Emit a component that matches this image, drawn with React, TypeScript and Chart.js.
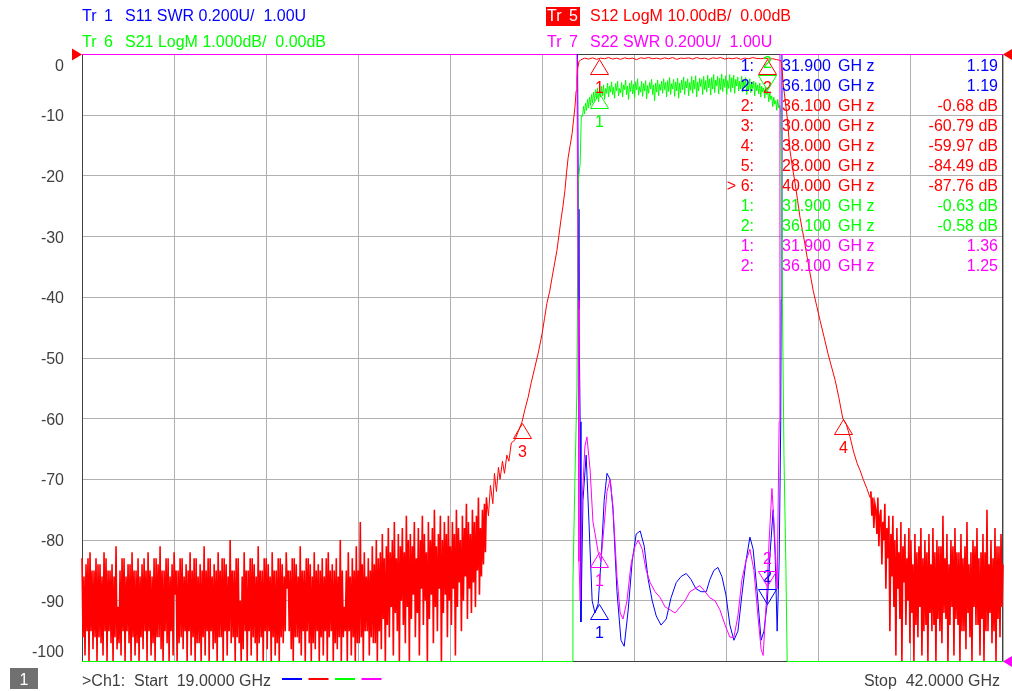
import React, { useEffect, useRef } from "react";
import { Chart, registerables } from "chart.js";

Chart.register(...registerables);

// ---------- axis / sweep ----------
const START_GHZ = 19;
const STOP_GHZ = 42;
const X_DIVS = 10;
const DB_TICKS = [0, -10, -20, -30, -40, -50, -60, -70, -80, -90, -100];

// ---------- S12 (red, LogM 10 dB/div) ----------
const s12NoiseLoStart = 19.0;
const s12NoiseLoStep = 0.025;
const s12NoiseLo = [
  -83, -96, -86, -99, -84, -95, -83, -100, -82, -95,
  -85, -98, -85, -96, -83, -100, -84, -96, -84, -97,
  -86, -99, -82, -95, -83, -100, -85, -95, -85, -97,
  -84, -100, -86, -96, -81, -98, -91, -97, -85, -99,
  -83, -95, -83, -100, -86, -95, -84, -97, -84, -100,
  -82, -96, -85, -99, -85, -97, -83, -100, -86, -96,
  -84, -98, -83, -95, -85, -100, -82, -95, -85, -99,
  -86, -97, -83, -100, -83, -96, -84, -96, -81, -98,
  -85, -100, -85, -95, -83, -97, -83, -100, -86, -95,
  -84, -99, -82, -89, -85, -100, -85, -97, -83, -96,
  -83, -98, -86, -95, -84, -100, -85, -95, -82, -99,
  -85, -96, -83, -100, -83, -97, -86, -97, -84, -100,
  -85, -96, -81, -99, -85, -95, -83, -100, -83, -95,
  -86, -98, -84, -97, -85, -100, -82, -96, -85, -96,
  -83, -100, -83, -95, -84, -99, -86, -95, -80, -97,
  -85, -96, -85, -100, -83, -96, -83, -97, -90, -100,
  -86, -98, -82, -95, -85, -100, -85, -95, -83, -99,
  -83, -96, -84, -97, -86, -100, -81, -97, -85, -96,
  -85, -100, -83, -95, -83, -98, -84, -95, -86, -100,
  -82, -96, -85, -99, -85, -97, -83, -100, -83, -96,
  -84, -97, -86, -95, -82, -88, -85, -95, -85, -98,
  -83, -100, -83, -96, -84, -96, -86, -97, -81, -99,
  -85, -95, -85, -100, -83, -95, -83, -97, -84, -100,
  -86, -97, -82, -98, -85, -95, -84, -100, -85, -96,
  -83, -99, -86, -95, -83, -100, -82, -96, -85, -95,
  -84, -100, -85, -97, -83, -98, -86, -96, -80, -100,
  -85, -96, -91, -95, -85, -100, -82, -95, -86, -99,
  -83, -96, -85, -100, -81, -97, -85, -97, -77, -96,
  -84, -100, -82, -95, -86, -95, -83, -99, -85, -96,
  -81, -97, -84, -97, -80, -100, -83, -95, -82, -98,
  -79, -93, -83, -100, -81, -94, -78, -96, -82, -91,
  -80, -99, -77, -92, -83, -95, -79, -100, -81, -90,
  -78, -94, -82, -97, -76, -91, -80, -100, -79, -93,
  -81, -89, -77, -96, -83, -92, -78, -99, -80, -88,
  -76, -94, -79, -90, -82, -100, -77, -93, -80, -89,
  -78, -97, -75, -91, -81, -95, -79, -88, -76, -100,
  -80, -92, -77, -89, -79, -96, -76, -90, -81, -94,
  -77, -88, -79, -99, -75, -91, -78, -87, -80, -95,
  -76, -90, -78, -86, -74, -93, -77, -88, -79, -92,
  -75, -87, -77, -91, -76, -85, -73, -89, -78, -86,
  -75, -84, -74, -82, -73,
];
const s12SkirtLoFreq = [
  29.15, 29.2, 29.26, 29.3, 29.35, 29.4, 29.44, 29.5, 29.55, 29.61, 29.66, 29.72,
  29.81, 29.9, 29.99, 30.06, 30.14, 30.22, 30.31, 30.4, 30.49, 30.55, 30.61, 30.68,
  30.74, 30.8, 30.86, 30.91, 30.96, 31.01, 31.06, 31.1, 31.14, 31.19, 31.24, 31.28,
  31.31, 31.34, 31.36, 31.38, 31.41,
];
const s12SkirtLoDb = [
  -76, -71, -74, -69, -72, -68, -70, -67, -69, -66, -67, -64,
  -63.5, -62, -60.5, -58.5, -56.5, -54, -51.5, -49, -46, -43.5, -41, -39,
  -36.7, -34.5, -32.3, -29.8, -27.3, -25, -22.4, -19.5, -17, -15, -13, -10.5,
  -8.7, -6, -3.8, -2.2, -1.2,
];
const s12PassStart = 31.45;
const s12PassStep = 0.1;
const s12Pass = [
  -0.9, -0.6, -0.75, -0.55, -0.8, -0.6, -0.7, -0.5, -0.75, -0.6,
  -0.8, -0.55, -0.7, -0.6, -0.85, -0.55, -0.65, -0.5, -0.7, -0.6,
  -0.75, -0.55, -0.7, -0.5, -0.8, -0.6, -0.65, -0.55, -0.75, -0.5,
  -0.7, -0.6, -0.8, -0.55, -0.65, -0.5, -0.75, -0.6, -0.7, -0.55,
  -0.8, -0.6, -0.7, -0.5, -0.65, -0.68, -0.6, -0.75, -0.7, -0.85, -1.0,
];
const s12SkirtHiFreq = [
  36.47, 36.51, 36.56, 36.61, 36.68, 36.74, 36.81, 36.87, 36.93, 37.02, 37.11, 37.18,
  37.26, 37.35, 37.43, 37.53, 37.63, 37.72, 37.81, 37.9, 38.0, 38.09, 38.18, 38.27,
  38.36, 38.43, 38.51, 38.6, 38.68,
];
const s12SkirtHiDb = [
  -1.5, -4.8, -7.5, -10.3, -15.8, -18.5, -21.3, -24, -26.8, -30, -33.4, -36,
  -38.9, -41.5, -43.8, -46.5, -49.3, -51.5, -53.7, -56.5, -59.97, -61, -63, -65.5,
  -67.4, -68.5, -70, -71.5, -73,
];
const s12NoiseHiStart = 38.7;
const s12NoiseHiStep = 0.025;
const s12NoiseHi = [
  -72, -76, -73, -78, -74, -75, -79, -73, -81, -76,
  -75, -84, -77, -80, -74, -88, -78, -83, -76, -95,
  -79, -86, -76, -91, -80, -99, -78, -88, -82, -93,
  -77, -100, -81, -87, -79, -94, -83, -90, -78, -97,
  -80, -92, -84, -100, -79, -94, -82, -96, -81, -91,
  -78, -99, -83, -95, -80, -94, -82, -100, -79, -92,
  -84, -95, -78, -94, -82, -100, -80, -93, -81, -95,
  -81, -97, -76, -92, -83, -93, -79, -100, -84, -94,
  -80, -91, -81, -99, -78, -93, -82, -94, -82, -100,
  -79, -95, -83, -95, -81, -98, -77, -92, -84, -96,
  -82, -100, -80, -91, -81, -94, -78, -94, -83, -99,
  -82, -93, -79, -100, -82, -95, -75, -95, -84, -92,
  -80, -97, -83, -95, -78, -100, -81, -93, -81, -96,
  -79, -91, -84,
];

// ---------- S21 (green, LogM 1 dB/div, shown clamped at -10 dB) ----------
const s21EdgeLoFreq = [19, 31.24, 31.26, 31.31, 31.36, 31.39, 31.44, 31.47];
const s21EdgeLoDb = [-10, -10, -8.7, -7.0, -5.5, -2.1, -1.8, -1.0];
const s21PassStart = 31.5;
const s21PassStep = 0.025;
const s21Pass = [
  -1.02, -0.85, -0.98, -0.8, -0.92, -0.74, -0.88, -0.7, -0.84, -0.66,
  -0.8, -0.62, -0.76, -0.58, -0.72, -0.55, -0.78, -0.6, -0.7, -0.52,
  -0.68, -0.5, -0.74, -0.56, -0.64, -0.47, -0.7, -0.52, -0.62, -0.45,
  -0.66, -0.54, -0.72, -0.48, -0.6, -0.44, -0.68, -0.56, -0.63, -0.46,
  -0.7, -0.5, -0.58, -0.42, -0.66, -0.52, -0.74, -0.47, -0.61, -0.43,
  -0.65, -0.49, -0.71, -0.45, -0.58, -0.4, -0.67, -0.53, -0.62, -0.44,
  -0.69, -0.48, -0.6, -0.43, -0.73, -0.51, -0.64, -0.46, -0.57, -0.41,
  -0.66, -0.5, -0.76, -0.47, -0.62, -0.42, -0.68, -0.49, -0.59, -0.44,
  -0.64, -0.4, -0.58, -0.46, -0.7, -0.43, -0.61, -0.38, -0.66, -0.48,
  -0.57, -0.41, -0.69, -0.45, -0.6, -0.39, -0.72, -0.47, -0.63, -0.42,
  -0.58, -0.37, -0.66, -0.44, -0.55, -0.4, -0.68, -0.46, -0.59, -0.36,
  -0.64, -0.42, -0.57, -0.35, -0.7, -0.45, -0.6, -0.39, -0.53, -0.41,
  -0.66, -0.36, -0.58, -0.43, -0.62, -0.34, -0.55, -0.4, -0.67, -0.38,
  -0.57, -0.33, -0.63, -0.42, -0.52, -0.36, -0.65, -0.39, -0.58, -0.32,
  -0.61, -0.4, -0.54, -0.35, -0.66, -0.43, -0.56, -0.33, -0.62, -0.38,
  -0.55, -0.34, -0.64, -0.41, -0.52, -0.37, -0.6, -0.44, -0.57, -0.36,
  -0.62, -0.42, -0.55, -0.38, -0.66, -0.45, -0.59, -0.4, -0.63, -0.47,
  -0.56, -0.44, -0.68, -0.46, -0.6, -0.5, -0.65, -0.47, -0.7, -0.52,
  -0.62, -0.55, -0.72, -0.53, -0.66, -0.6, -0.78, -0.62, -0.74, -0.68,
  -0.86, -0.7, -0.82, -0.76, -0.92, -0.74, -0.88, -0.84, -0.96,
];
const s21EdgeHiFreq = [36.47, 36.49, 36.53, 36.58, 36.61, 42];
const s21EdgeHiDb = [-1.8, -4.0, -6.6, -8.5, -10, -10];

// ---------- S11 (blue, SWR 0.2 U/div, shown clamped at 3.0) ----------
const s11Freq = [
  19, 31.375, 31.395, 31.41, 31.44, 31.46, 31.51, 31.59, 31.66, 31.74, 31.81, 31.89,
  31.96, 32.04, 32.11, 32.19, 32.26, 32.36, 32.46, 32.54, 32.64, 32.74, 32.84, 32.94,
  33.04, 33.14, 33.24, 33.34, 33.46, 33.59, 33.71, 33.84, 33.96, 34.09, 34.21, 34.33,
  34.46, 34.59, 34.68, 34.78, 34.88, 34.98, 35.08, 35.18, 35.28, 35.38, 35.48, 35.58,
  35.68, 35.76, 35.86, 35.96, 36.03, 36.11, 36.18, 36.26, 36.31, 36.36, 36.41, 36.45,
  36.46, 36.48, 42,
];
const s11Swr = [
  3.0, 3.0, 2.49, 2.16, 1.79, 1.13, 1.53, 1.68, 1.46, 1.2, 1.16, 1.19,
  1.33, 1.53, 1.62, 1.6, 1.5, 1.23, 1.07, 1.05, 1.17, 1.33, 1.42, 1.43,
  1.38, 1.27, 1.2, 1.15, 1.12, 1.14, 1.21, 1.26, 1.28, 1.29, 1.27, 1.24,
  1.23, 1.23, 1.27, 1.3, 1.31, 1.28, 1.22, 1.12, 1.07, 1.1, 1.22, 1.33,
  1.41, 1.37, 1.23, 1.07, 1.1, 1.19, 1.35, 1.5, 1.35, 1.1, 1.33, 1.79,
  2.19, 3.0, 3.0,
];

// ---------- S22 (magenta, SWR 0.2 U/div, shown clamped at 3.0) ----------
const s22Freq = [
  19, 31.36, 31.39, 31.41, 31.44, 31.49, 31.56, 31.61, 31.69, 31.76, 31.84, 31.89,
  31.96, 32.04, 32.11, 32.19, 32.26, 32.36, 32.44, 32.51, 32.61, 32.71, 32.81, 32.89,
  32.99, 33.09, 33.19, 33.31, 33.44, 33.56, 33.69, 33.81, 33.94, 34.06, 34.18, 34.31,
  34.43, 34.56, 34.68, 34.81, 34.93, 35.06, 35.18, 35.28, 35.38, 35.48, 35.58, 35.68,
  35.78, 35.88, 35.96, 36.01, 36.09, 36.11, 36.16, 36.23, 36.28, 36.36, 36.41, 36.43,
  42,
];
const s22Swr = [
  3.0, 3.0, 2.19, 1.33, 1.2, 1.53, 1.71, 1.74, 1.63, 1.46, 1.4, 1.36,
  1.33, 1.45, 1.56, 1.6, 1.51, 1.28, 1.16, 1.14, 1.2, 1.32, 1.38, 1.4,
  1.37, 1.3, 1.26, 1.23, 1.21, 1.18, 1.17, 1.16, 1.18, 1.2, 1.23, 1.24,
  1.25, 1.23, 1.21, 1.2, 1.17, 1.12, 1.08, 1.08, 1.15, 1.27, 1.33, 1.37,
  1.3, 1.15, 1.04, 1.02, 1.2, 1.25, 1.4, 1.57, 1.46, 1.24, 1.79, 3.0,
  3.0,
];

// ---------- markers drawn on the traces ----------
const mkTrace = ["s11", "s11", "s12", "s12", "s12", "s12", "s21", "s21", "s22", "s22"];
const mkFreq = [31.9, 36.1, 31.9, 36.1, 30.0, 38.0, 31.9, 36.1, 31.9, 36.1];
const mkValue = [1.19, 1.19, -0.8, -0.68, -60.79, -59.97, -0.63, -0.58, 1.36, 1.25];
const mkLabel = ["1", "2", "1", "2", "3", "4", "1", "2", "1", "2"];
const mkDown = [false, true, false, false, false, false, false, true, false, true];

// ---------- marker table ----------
const tblNum = ["1:", "2:", "2:", "3:", "4:", "5:", "> 6:", "1:", "2:", "1:", "2:"];
const tblFreq = ["31.900", "36.100", "36.100", "30.000", "38.000", "28.000", "40.000", "31.900", "36.100", "31.900", "36.100"];
const tblValue = ["1.19", "1.19", "-0.68 dB", "-60.79 dB", "-59.97 dB", "-84.49 dB", "-87.76 dB", "-0.63 dB", "-0.58 dB", "1.36", "1.25"];
const tblTrace = ["s11", "s11", "s12", "s12", "s12", "s12", "s12", "s21", "s21", "s22", "s22"];

const COLORS: Record<string, string> = {
  s11: "#0000ff",
  s12: "#ff0000",
  s21: "#00ff00",
  s22: "#ff00ff",
};
const AXIS_OF: Record<string, string> = { s11: "ySWR", s12: "y", s21: "yS21", s22: "ySWR" };

const FONT = "16px 'Liberation Sans', Arial, sans-serif";

function uniform(start: number, step: number, vals: number[]) {
  return vals.map((v, i) => ({ x: +(start + i * step).toFixed(4), y: v }));
}
function paired(fs: number[], vs: number[]) {
  return fs.map((f, i) => ({ x: f, y: vs[i] }));
}

const vnaPlugin = {
  id: "vnaDecor",
  beforeDatasetsDraw(chart: any) {
    const { ctx, chartArea: a } = chart;
    const l = Math.floor(a.left) + 0.5;
    const r = Math.floor(a.right) - 0.5;
    const t = Math.floor(a.top) + 0.5;
    const b = Math.floor(a.bottom) + 0.5;
    ctx.save();
    ctx.strokeStyle = "#404040";
    ctx.lineWidth = 1;
    ctx.strokeRect(l, t, r - l, b - t);
    ctx.restore();
  },
  afterDatasetsDraw(chart: any) {
    const { ctx, scales } = chart;
    ctx.save();
    ctx.font = FONT;
    ctx.lineWidth = 1;
    for (let i = 0; i < mkFreq.length; i++) {
      const col = COLORS[mkTrace[i]];
      const x = Math.round(scales.x.getPixelForValue(mkFreq[i])) + 0.5;
      const y = Math.round(scales[AXIS_OF[mkTrace[i]]].getPixelForValue(mkValue[i])) + 0.5;
      const d = mkDown[i] ? -1 : 1;
      ctx.strokeStyle = col;
      ctx.fillStyle = col;
      ctx.beginPath();
      ctx.moveTo(x, y);
      ctx.lineTo(x - 9, y + 15 * d);
      ctx.lineTo(x + 9, y + 15 * d);
      ctx.closePath();
      ctx.stroke();
      ctx.textAlign = "center";
      ctx.textBaseline = "middle";
      ctx.fillText(mkLabel[i], x, y + (mkDown[i] ? -27 : 29));
    }
    ctx.restore();
  },
  afterDraw(chart: any) {
    const { ctx, chartArea: a, scales } = chart;
    ctx.save();
    ctx.font = FONT;
    ctx.textBaseline = "alphabetic";

    // y tick labels
    ctx.fillStyle = "#404040";
    ctx.textAlign = "right";
    DB_TICKS.forEach((t, i) => {
      let y = scales.y.getPixelForValue(t) + 6;
      if (i === 0) y += 10;
      if (i === DB_TICKS.length - 1) y -= 11;
      ctx.fillText(String(t), 64, Math.round(y));
    });

    // header
    ctx.textAlign = "left";
    const hdr = (x: number, y: number, tr: string, txt: string, col: string, boxed: boolean) => {
      if (boxed) {
        ctx.fillStyle = col;
        ctx.fillRect(x, y - 14, 34, 19);
        ctx.fillStyle = "#ffffff";
      } else ctx.fillStyle = col;
      ctx.fillText("Tr", x + 1, y);
      ctx.fillText(tr, x + 23, y);
      ctx.fillStyle = col;
      ctx.fillText(txt, x + 44, y);
    };
    hdr(81, 21, "1", "S11 SWR 0.200U/  1.00U", COLORS.s11, false);
    hdr(546, 21, "5", "S12 LogM 10.00dB/  0.00dB", COLORS.s12, true);
    hdr(81, 47, "6", "S21 LogM 1.000dB/  0.00dB", COLORS.s21, false);
    hdr(546, 47, "7", "S22 SWR 0.200U/  1.00U", COLORS.s22, false);

    // marker table
    for (let i = 0; i < tblNum.length; i++) {
      const y = 71 + i * 20;
      ctx.fillStyle = COLORS[tblTrace[i]];
      ctx.textAlign = "right";
      ctx.fillText(tblNum[i], 754, y);
      ctx.textAlign = "left";
      ctx.fillText(tblFreq[i], 782, y);
      ctx.fillText("GH z", 838, y);
      ctx.textAlign = "right";
      ctx.fillText(tblValue[i], 998, y);
    }

    // reference position triangles
    const l = Math.floor(a.left);
    const r = Math.floor(a.right);
    const yTop = Math.floor(a.top) + 0.5;
    const yBot = Math.floor(a.bottom) + 0.5;
    const tri = (x0: number, y0: number, dx: number, col: string) => {
      ctx.fillStyle = col;
      ctx.beginPath();
      ctx.moveTo(x0, y0);
      ctx.lineTo(x0 + dx, y0 - 6);
      ctx.lineTo(x0 + dx, y0 + 6);
      ctx.closePath();
      ctx.fill();
    };
    tri(l, yTop, -10, COLORS.s12);
    tri(r, yTop, 10, COLORS.s12);
    tri(r, yBot, 10, COLORS.s22);

    // bottom status bar
    ctx.fillStyle = "#707070";
    ctx.fillRect(10, 668, 28, 21);
    ctx.fillStyle = "#ffffff";
    ctx.textAlign = "center";
    ctx.fillText("1", 24, 685);
    ctx.fillStyle = "#404040";
    ctx.textAlign = "left";
    ctx.fillText(">Ch1:  Start  " + START_GHZ.toFixed(4) + " GHz", 82, 686);
    const legendCols = [COLORS.s11, COLORS.s12, COLORS.s21, COLORS.s22];
    legendCols.forEach((c, i) => {
      ctx.strokeStyle = c;
      ctx.lineWidth = 2;
      ctx.beginPath();
      ctx.moveTo(282 + i * 26.5, 679);
      ctx.lineTo(302 + i * 26.5, 679);
      ctx.stroke();
    });
    ctx.fillStyle = "#404040";
    ctx.textAlign = "right";
    ctx.fillText("Stop  " + STOP_GHZ.toFixed(4) + " GHz", 1000, 686);
    ctx.restore();
  },
};

export default function App() {
  const ref = useRef<HTMLCanvasElement>(null);
  useEffect(() => {
    document.body.style.margin = "0";
    const s12Data = [
      ...uniform(s12NoiseLoStart, s12NoiseLoStep, s12NoiseLo),
      ...paired(s12SkirtLoFreq, s12SkirtLoDb),
      ...uniform(s12PassStart, s12PassStep, s12Pass),
      ...paired(s12SkirtHiFreq, s12SkirtHiDb),
      ...uniform(s12NoiseHiStart, s12NoiseHiStep, s12NoiseHi),
    ];
    const s21Data = [
      ...paired(s21EdgeLoFreq, s21EdgeLoDb),
      ...uniform(s21PassStart, s21PassStep, s21Pass),
      ...paired(s21EdgeHiFreq, s21EdgeHiDb),
    ];
    const noiseLoEnd = s12NoiseLoStart + (s12NoiseLo.length - 1) * s12NoiseLoStep;
    const common = { pointRadius: 0, borderWidth: 1, tension: 0, fill: false, clip: 2 };
    const chart = new Chart(ref.current!, {
      type: "line",
      data: {
        datasets: [
          { ...common, label: "S11", data: paired(s11Freq, s11Swr), borderColor: COLORS.s11, yAxisID: "ySWR", order: 4 },
          {
            ...common,
            label: "S12",
            data: s12Data,
            borderColor: COLORS.s12,
            yAxisID: "y",
            order: 3,
            segment: {
              borderWidth: (c: any) =>
                c.p1.parsed.x <= noiseLoEnd + 1e-6 || c.p0.parsed.x >= s12NoiseHiStart - 1e-6 ? 1.6 : 1,
            },
          },
          { ...common, label: "S21", data: s21Data, borderColor: COLORS.s21, yAxisID: "yS21", order: 2 },
          { ...common, label: "S22", data: paired(s22Freq, s22Swr), borderColor: COLORS.s22, yAxisID: "ySWR", order: 1 },
        ] as any,
      },
      options: {
        responsive: false,
        animation: false,
        layout: { padding: { left: 82, right: 9, top: 54.5, bottom: 29.5 } },
        plugins: { legend: { display: false }, tooltip: { enabled: false } },
        scales: {
          x: {
            type: "linear",
            min: START_GHZ,
            max: STOP_GHZ,
            ticks: { display: false },
            grid: { color: "#b0b0b0", drawTicks: false },
            border: { display: false },
            afterBuildTicks: (s: any) => {
              const step = (STOP_GHZ - START_GHZ) / X_DIVS;
              s.ticks = Array.from({ length: X_DIVS + 1 }, (_, i) => ({ value: START_GHZ + i * step }));
            },
            afterFit: (s: any) => {
              s.height = 0;
            },
          },
          y: {
            type: "linear",
            min: -100,
            max: 0,
            ticks: { display: false, stepSize: 10 },
            grid: { color: "#b0b0b0", drawTicks: false },
            border: { display: false },
            afterFit: (s: any) => {
              s.width = 0;
            },
          },
          yS21: { type: "linear", display: false, min: -10, max: 0 },
          ySWR: { type: "linear", display: false, min: 1, max: 3 },
        },
      } as any,
      plugins: [vnaPlugin],
    });
    return () => chart.destroy();
  }, []);
  return (
    <div style={{ position: "fixed", left: 0, top: 0, width: 1012, height: 691, background: "#ffffff" }}>
      <canvas ref={ref} width={1012} height={691} style={{ display: "block" }} />
    </div>
  );
}
